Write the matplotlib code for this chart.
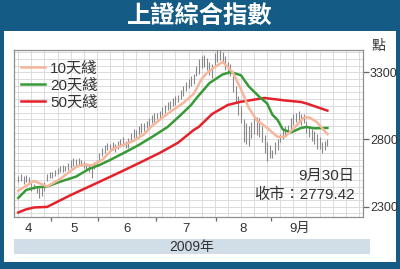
import numpy as np
import matplotlib
matplotlib.use('Agg')
import matplotlib.pyplot as plt
from matplotlib.patches import Rectangle
from matplotlib.lines import Line2D

plt.rcParams['font.family'] = ['Liberation Sans', 'Noto Sans CJK TC']

# daily high / low, mid-April to end of September 2009
highs = [2530, 2540, 2525, 2535, 2520, 2485, 2470, 2450, 2440, 2445,
         2480, 2540, 2555,
         2560, 2575, 2590, 2600, 2610, 2605, 2625, 2650, 2660, 2655,
         2665, 2650, 2640, 2625, 2620, 2600, 2630, 2650,
         2700, 2740, 2760, 2775, 2770, 2780, 2765, 2790, 2800, 2815,
         2790, 2810, 2850, 2880, 2870, 2900, 2920, 2925, 2940, 2960,
         2985, 2995,
         3000, 3010, 3040, 3060, 3080, 3090, 3110, 3120, 3130, 3170,
         3200, 3230, 3250, 3270, 3290, 3350, 3400, 3420, 3430, 3410,
         3380, 3360, 3440,
         3466, 3470, 3450, 3420, 3380, 3360, 3270, 3200, 3120, 3050,
         2950, 2920, 2900, 2930, 2980, 2970, 2960, 2900, 2830, 2780,
         2760,
         2720, 2780, 2800, 2840, 2880, 2900, 2910, 2960, 2990, 3000,
         3010, 2990, 2990, 2940, 2900, 2880, 2860, 2840, 2820, 2780,
         2790, 2800]
lows = [2480, 2490, 2470, 2485, 2465, 2420, 2430, 2400, 2365, 2380,
        2420, 2490, 2510,
        2515, 2530, 2540, 2555, 2560, 2565, 2575, 2590, 2605, 2600,
        2610, 2600, 2590, 2570, 2560, 2515, 2580, 2600,
        2650, 2680, 2700, 2720, 2715, 2720, 2710, 2730, 2745, 2755,
        2735, 2740, 2790, 2810, 2805, 2830, 2850, 2860, 2885, 2900,
        2920, 2930,
        2950, 2960, 2985, 3000, 3020, 3030, 3050, 3060, 3080, 3100,
        3120, 3160, 3180, 3200, 3210, 3270, 3290, 3330, 3340, 3320,
        3280, 3260, 3350,
        3380, 3390, 3370, 3320, 3290, 3270, 3150, 3080, 2980, 2920,
        2780, 2770, 2750, 2810, 2840, 2830, 2820, 2780, 2700, 2640,
        2660,
        2660, 2690, 2720, 2780, 2800, 2830, 2850, 2880, 2910, 2930,
        2940, 2910, 2920, 2850, 2820, 2790, 2770, 2730, 2730, 2700,
        2720, 2750]

# moving averages sampled on trading days
ma10_day = [0, 6, 11, 16, 22, 25, 28, 32, 36, 40, 44, 48, 51, 55, 59, 63, 67,
            70, 72, 75, 78, 80, 82, 85, 88, 91, 95, 99, 102, 106, 109, 111,
            114, 118]
ma10_val = [2418, 2492, 2450, 2506, 2595, 2614, 2607, 2647, 2729, 2759, 2789,
            2838, 2900, 2962, 3019, 3072, 3140, 3250, 3295, 3339, 3377, 3339,
            3295, 3175, 3035, 2945, 2886, 2819, 2822, 2900, 2962, 2965, 2930,
            2840]
ma20_day = [0, 3, 7, 11, 16, 22, 27, 31, 35, 41, 46, 51, 57, 62, 66, 68, 73,
            78, 81, 85, 88, 92, 95, 97, 99, 101, 104, 108, 110, 113, 118]
ma20_val = [2365, 2424, 2444, 2450, 2486, 2523, 2581, 2610, 2647, 2707, 2759,
            2818, 2893, 2982, 3057, 3107, 3220, 3284, 3302, 3278, 3195, 3118,
            3068, 2985, 2945, 2875, 2852, 2886, 2893, 2883, 2886]
ma50_day = [0, 3, 6, 11, 20, 31, 39, 47, 54, 61, 67, 69, 74, 80, 85, 94, 102,
            108, 110, 118]
ma50_val = [2257, 2280, 2294, 2298, 2386, 2485, 2558, 2633, 2700, 2776, 2871,
            2895, 2990, 3057, 3081, 3109, 3090, 3079, 3068, 3015]

month_labels = ['4', '5', '6', '7', '8', '9月']
month_days = [13, 18, 22, 23, 21, 22]   # trading days shown per month
ma_labels = ['10天綫', '20天綫', '50天綫']
ma_colors = ['#f5b69c', '#379a36', '#e5222b']
year_label = '2009年'
last_date = '9月30日'
last_close = 2779.42

days = np.arange(len(highs))
ends = np.cumsum(month_days) - 0.5
starts = np.concatenate([[-5], ends[:-1]])
mids = (starts + ends) / 2

W, H = 400, 269
fig = plt.figure(figsize=(W / 100, H / 100), dpi=100)
fig.patch.set_facecolor('#145c85')
fig.add_artist(Rectangle((4 / W, 7 / H), 392 / W, 231 / H, transform=fig.transFigure,
                         fc='white', ec='none', zorder=0))
fig.text(0.5, 1 - 16 / H, '上證綜合指數', ha='center', va='center', color='white',
         fontsize=17.5, fontweight='bold', family=['Noto Sans CJK TC'])

ax = fig.add_axes([14 / W, 52 / H, 349 / W, 167 / H])
ax.set_xlim(-1.63, 131.6)
ax.set_ylim(2223, 3466)

# light grid, one line a week and every 50 points
for x in np.arange(0, 131, 5):
    ax.axvline(x, color='#d6d6d6', lw=0.6, zorder=1)
for y in np.arange(2250, 3466, 50):
    ax.axhline(y, color='#d6d6d6', lw=0.6, zorder=1)

ax.vlines(days, lows, highs, color='#888888', lw=0.8, zorder=2)
ax.plot(ma50_day, ma50_val, color=ma_colors[2], lw=1.8, zorder=3)
ax.plot(ma20_day, ma20_val, color=ma_colors[1], lw=1.8, zorder=4)
ax.plot(ma10_day, ma10_val, color=ma_colors[0], lw=1.8, zorder=5)

handles = [Line2D([], [], color=c, lw=1.8) for c in ma_colors]
leg = ax.legend(handles, ma_labels, loc='upper left', bbox_to_anchor=(0.02, 0.93),
                frameon=False, fontsize=11, handlelength=1.6, handletextpad=0.3,
                labelspacing=0.18, borderpad=0, borderaxespad=0)
for t in leg.get_texts():
    t.set_color('#333333')

for s in ax.spines.values():
    s.set_color('#909090')
    s.set_linewidth(0.9)

ax.set_xticks(ends[:-1])
ax.set_xticklabels([])
ax.tick_params(axis='x', direction='out', length=3, width=0.9, color='#666666')
for m, lab in zip(mids, month_labels):
    ax.text(m, -0.072, lab, transform=ax.get_xaxis_transform(), ha='center',
            va='center', fontsize=9.5, color='#333333')

ax.yaxis.tick_right()
ax.set_yticks([2300, 2800, 3300])
ax.tick_params(axis='y', direction='out', length=4, width=0.9, color='#666666',
               pad=1, labelsize=9, labelcolor='#333333')

fig.text(378 / W, 1 - 46 / H, '點', ha='center', va='center', fontsize=10, color='#333333')
fig.text(354 / W, 1 - 176 / H, last_date, ha='right', va='center', fontsize=11, color='#333333')
fig.text(355 / W, 1 - 195 / H, f'收市：{last_close:.2f}', ha='right', va='center',
         fontsize=11, color='#333333')

fig.add_artist(Rectangle((14 / W, 15 / H), 356 / W, 15 / H, transform=fig.transFigure,
                         fc='#d1dee8', ec='none'))
fig.text(192 / W, 1 - 247 / H, year_label, ha='center', va='center', fontsize=10, color='#333333')

fig.savefig('out.png', dpi=100, facecolor=fig.get_facecolor())
